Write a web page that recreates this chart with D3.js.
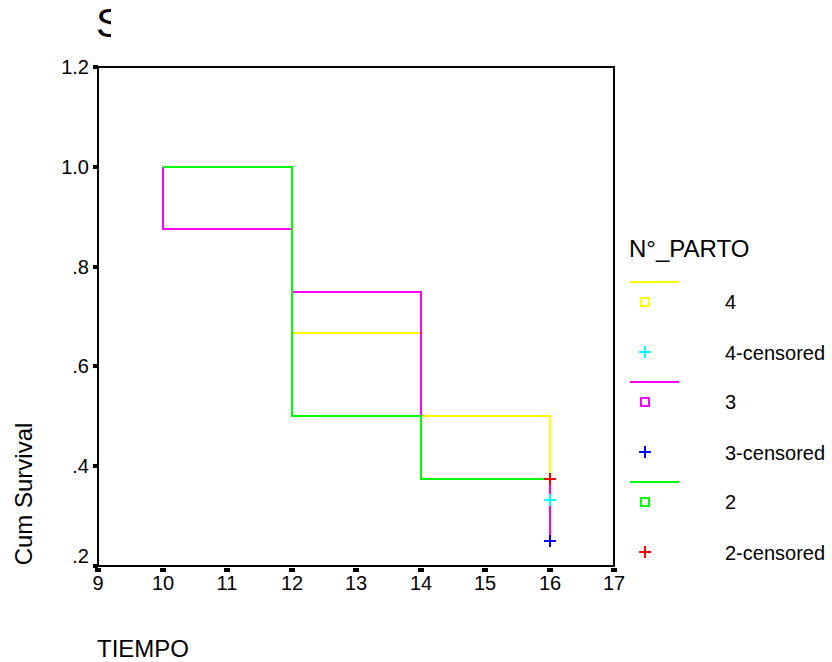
<!DOCTYPE html>
<html>
<head>
<meta charset="utf-8">
<script src="https://cdn.jsdelivr.net/npm/d3@7"></script>
<style>
body { margin: 0; background: #fff; }
text { font-family: "Liberation Sans", Arial, sans-serif; fill: #000; }
path, rect, line { shape-rendering: crispEdges; }
</style>
</head>
<body>
<svg id="chart" width="832" height="662"></svg>
<script>
// survival curves per group (N°_PARTO)
var groups = ["4", "3", "2"];
var times4 = [10, 12, 14, 16];
var surv4 = [1.0, 0.667, 0.5, 0.333];
var times3 = [10, 10, 12, 14, 16];
var surv3 = [1.0, 0.875, 0.75, 0.375, 0.25];
var times2 = [10, 12, 14, 16];
var surv2 = [1.0, 0.5, 0.375, 0.375];
// censored marks
var censTime = [16, 16, 16];
var censSurv = [0.333, 0.25, 0.375];
var xTicks = [9, 10, 11, 12, 13, 14, 15, 16, 17];
var yTicks = [0.2, 0.4, 0.6, 0.8, 1.0, 1.2];
var yTickLabels = [".2", ".4", ".6", ".8", "1.0", "1.2"];

var lineColors = ["#ffff00", "#ff00ff", "#00ff00"];
var censColors = ["#00ffff", "#0000ff", "#ff0000"];

var svg = d3.select("#chart");
var x = d3.scaleLinear().domain([9, 17]).range([98, 614]).interpolate(d3.interpolateRound);
var y = d3.scaleLinear().domain([0.2, 1.2]).range([566, 67]).interpolate(d3.interpolateRound);

// clipped title
svg.append("clipPath").attr("id", "tclip")
  .append("rect").attr("x", 0).attr("y", 0).attr("width", 111).attr("height", 60);
svg.append("text")
  .attr("x", 96).attr("y", 37)
  .attr("clip-path", "url(#tclip)")
  .style("font-size", "41px")
  .text("Survival Functions");

// curves
var series = [
  {t: times4, s: surv4},
  {t: times3, s: surv3},
  {t: times2, s: surv2}
];
var line = d3.line()
  .x(function(d) { return x(d[0]); })
  .y(function(d) { return y(d[1]); })
  .curve(d3.curveStepAfter);

series.forEach(function(g, i) {
  svg.append("path")
    .attr("d", line(d3.zip(g.t, g.s)))
    .attr("fill", "none")
    .attr("stroke", lineColors[i])
    .attr("stroke-width", 2);
});

function cross(sel, cx, cy, color, r) {
  sel.append("path")
    .attr("d", "M" + (cx - r) + "," + cy + "H" + (cx + r) + "M" + cx + "," + (cy - r) + "V" + (cy + r))
    .attr("stroke", color)
    .attr("stroke-width", 2)
    .attr("fill", "none");
}

for (var i = 0; i < censTime.length; i++) {
  cross(svg, x(censTime[i]), y(censSurv[i]), censColors[i], 6);
}

// frame
svg.append("rect")
  .attr("x", x(9)).attr("y", y(1.2))
  .attr("width", x(17) - x(9)).attr("height", y(0.2) - y(1.2))
  .attr("fill", "none").attr("stroke", "#000").attr("stroke-width", 2);

// x ticks
svg.selectAll(".xt").data(xTicks).enter().append("rect")
  .attr("x", function(d) { return x(d) - 3; })
  .attr("y", 568).attr("width", 6).attr("height", 4).attr("fill", "#000");
svg.selectAll(".xl").data(xTicks).enter().append("text")
  .attr("x", function(d) { return x(d); })
  .attr("y", 590)
  .attr("text-anchor", "middle")
  .style("font-size", "20px")
  .text(function(d) { return d; });

// y ticks
svg.selectAll(".yt").data(yTicks).enter().append("rect")
  .attr("x", 93)
  .attr("y", function(d) { return y(d) - 2; })
  .attr("width", 5).attr("height", 4).attr("fill", "#000");
svg.selectAll(".yl").data(yTicks).enter().append("text")
  .attr("x", 89)
  .attr("y", function(d, i) { return (i === 0 ? y(d) - 10 : y(d)) + 7; })
  .attr("text-anchor", "end")
  .style("font-size", "20px")
  .text(function(d, i) { return yTickLabels[i]; });

// axis titles
svg.append("text")
  .attr("transform", "translate(32,494) rotate(-90)")
  .attr("text-anchor", "middle")
  .style("font-size", "24px")
  .text("Cum Survival");
svg.append("text")
  .attr("x", 97).attr("y", 657)
  .style("font-size", "24px")
  .text("TIEMPO");

// legend
var lg = svg.append("g");
lg.append("text")
  .attr("x", 629).attr("y", 257)
  .style("font-size", "24px")
  .text("N°_PARTO");
groups.forEach(function(g, i) {
  var top = 282 + i * 100;
  lg.append("line")
    .attr("x1", 630).attr("x2", 679)
    .attr("y1", top).attr("y2", top)
    .attr("stroke", lineColors[i]).attr("stroke-width", 2);
  lg.append("rect")
    .attr("x", 641).attr("y", top + 16).attr("width", 8).attr("height", 8)
    .attr("fill", "none").attr("stroke", lineColors[i]).attr("stroke-width", 2);
  lg.append("text")
    .attr("x", 725).attr("y", top + 27)
    .style("font-size", "20px")
    .text(g);
  cross(lg, 645, top + 70, censColors[i], 6);
  lg.append("text")
    .attr("x", 725).attr("y", top + 78)
    .style("font-size", "20px")
    .text(g + "-censored");
});
</script>
</body>
</html>
